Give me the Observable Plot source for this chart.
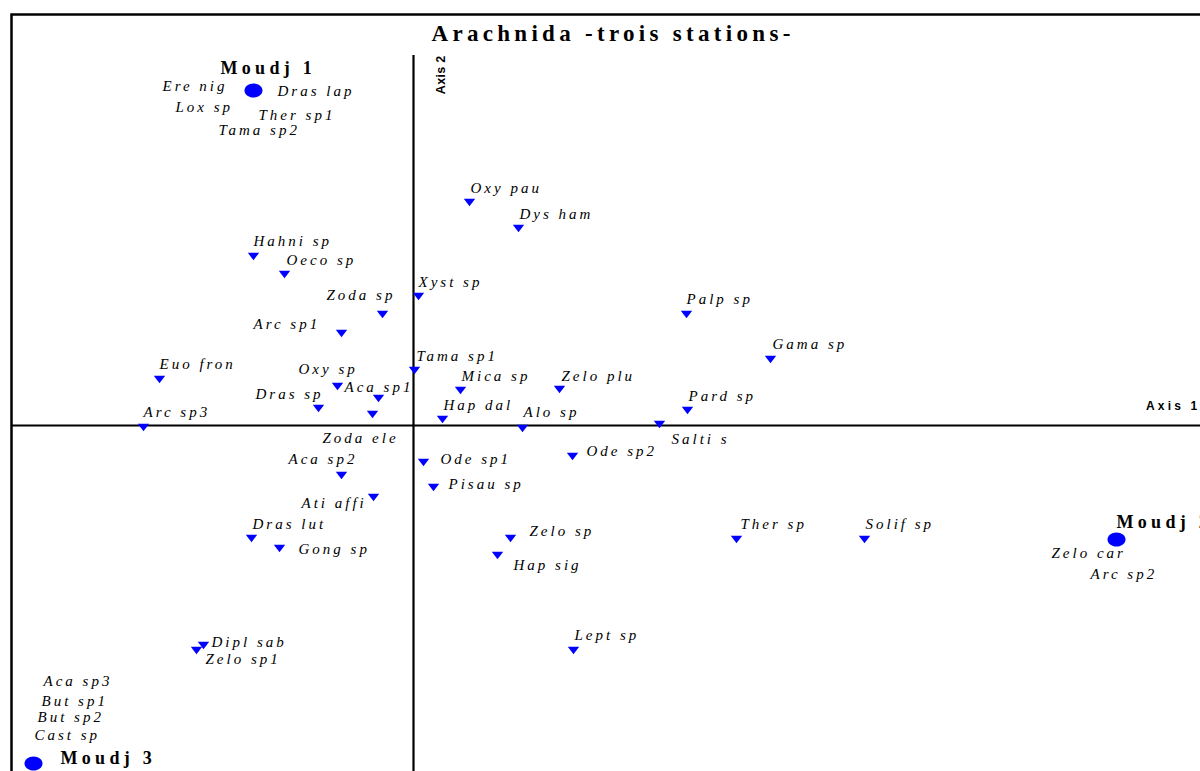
<!DOCTYPE html>
<html>
<head>
<meta charset="utf-8">
<script src="https://cdn.jsdelivr.net/npm/d3@7"></script>
<script src="https://cdn.jsdelivr.net/npm/@observablehq/plot@0.6"></script>
<style>
  html, body { margin: 0; padding: 0; overflow: hidden; background: #fff; }
  #chart svg { display: block; }
  #chart g.lbl-species { letter-spacing: 3px; }
  #chart g.lbl-station { letter-spacing: 4.3px; }
  #chart g.lbl-title { letter-spacing: 4.3px; }
  #chart g.lbl-axis1 { letter-spacing: 3.2px; }
  #chart g.lbl-axis2 { letter-spacing: 0.3px; }
</style>
</head>
<body>
<div id="chart"></div>
<script>
// ---- Data (correspondence analysis coordinates) ----
const title = "Arachnida -trois stations-";
const axisNames = ["Axis 1", "Axis 2"];

const stations = ["Moudj 1", "Moudj 2", "Moudj 3"];
const stationAxis1 = [-0.640, 2.812, -1.520];
const stationAxis2 = [1.340, -0.456, -1.352];
const stationLabelAxis1 = [-0.772, 2.812, -1.412];
const stationLabelAxis2 = [1.428, -0.388, -1.332];

const species = [
  "Ere nig", "Dras lap", "Lox sp", "Ther sp1", "Tama sp2",
  "Oxy pau", "Dys ham", "Hahni sp", "Oeco sp", "Xyst sp",
  "Zoda sp", "Palp sp", "Arc sp1", "Gama sp", "Tama sp1",
  "Euo fron", "Oxy sp", "Mica sp", "Zelo plu", "Aca sp1",
  "Dras sp", "Pard sp", "Hap dal", "Zoda ele", "Arc sp3",
  "Alo sp", "Salti s", "Ode sp2", "Ode sp1", "Aca sp2",
  "Pisau sp", "Ati affi", "Zelo sp", "Dras lut", "Gong sp",
  "Hap sig", "Ther sp", "Solif sp", "Zelo car", "Arc sp2",
  "Dipl sab", "Zelo sp1", "Lept sp", "Aca sp3", "But sp1",
  "But sp2", "Cast sp"
];
const speciesAxis1 = [
  -0.640, -0.640, -0.640, -0.640, -0.640,
  0.224, 0.420, -0.640, -0.516, 0.020,
  -0.124, 1.092, -0.288, 1.428, 0.004,
  -1.016, -0.304, 0.188, 0.584, -0.140,
  -0.380, 1.096, 0.116, -0.164, -1.080,
  0.436, 0.984, 0.636, 0.040, -0.288,
  0.080, -0.160, 0.388, -0.648, -0.536,
  0.336, 1.292, 1.804, 2.812, 2.812,
  -0.840, -0.868, 0.640, -1.520, -1.520,
  -1.520, -1.520
];
const speciesAxis2 = [
  1.340, 1.340, 1.340, 1.340, 1.340,
  0.892, 0.788, 0.676, 0.604, 0.516,
  0.444, 0.444, 0.368, 0.264, 0.220,
  0.184, 0.156, 0.140, 0.144, 0.108,
  0.068, 0.060, 0.024, 0.044, -0.008,
  -0.012, 0.004, -0.124, -0.148, -0.200,
  -0.248, -0.288, -0.452, -0.452, -0.492,
  -0.520, -0.456, -0.456, -0.456, -0.456,
  -0.880, -0.900, -0.900, -1.352, -1.352,
  -1.352, -1.352
];
// label anchor points (left end of each name), in the same units
const labelAxis1 = [
  -1.004, -0.544, -0.952, -0.620, -0.780,
  0.228, 0.424, -0.640, -0.508, 0.020,
  -0.348, 1.092, -0.640, 1.436, 0.012,
  -1.016, -0.460, 0.192, 0.592, -0.276,
  -0.632, 1.100, 0.120, -0.364, -1.080,
  0.440, 1.032, 0.692, 0.108, -0.500,
  0.140, -0.448, 0.464, -0.644, -0.460,
  0.400, 1.308, 1.808, 2.552, 2.708,
  -0.808, -0.832, 0.644, -1.480, -1.488,
  -1.504, -1.516
];
const labelAxis2 = [
  1.356, 1.336, 1.272, 1.240, 1.180,
  0.948, 0.844, 0.736, 0.660, 0.572,
  0.520, 0.504, 0.404, 0.324, 0.276,
  0.244, 0.224, 0.196, 0.196, 0.152,
  0.124, 0.116, 0.080, -0.052, 0.052,
  0.052, -0.056, -0.104, -0.136, -0.136,
  -0.236, -0.312, -0.424, -0.396, -0.496,
  -0.560, -0.396, -0.396, -0.512, -0.596,
  -0.868, -0.936, -0.840, -1.024, -1.104,
  -1.168, -1.240
];

// plotting window and axis-line extent
const xDomain = [-1.608, 3.168];
const yDomain = [-1.404, 1.644];
const axis2Top = 1.48;

// ---- Build tables ----
const speciesData = species.map((name, i) => ({
  name, x: speciesAxis1[i], y: speciesAxis2[i], lx: labelAxis1[i], ly: labelAxis2[i]
}));
const stationData = stations.map((name, i) => ({
  name, x: stationAxis1[i], y: stationAxis2[i], lx: stationLabelAxis1[i], ly: stationLabelAxis2[i]
}));

// custom symbols
const triangleDown = {
  draw(context, size) {
    const r = Math.sqrt(size / Math.PI);
    const w = r * 0.92, h = r * 0.6;
    context.moveTo(-w, -h);
    context.lineTo(w, -h);
    context.lineTo(0, h);
    context.closePath();
  }
};
const ellipse = {
  draw(context, size) {
    const r = Math.sqrt(size / Math.PI);
    const rx = r, ry = r * 0.78, k = 0.5523;
    context.moveTo(rx, 0);
    context.bezierCurveTo(rx, ry * k, rx * k, ry, 0, ry);
    context.bezierCurveTo(-rx * k, ry, -rx, ry * k, -rx, 0);
    context.bezierCurveTo(-rx, -ry * k, -rx * k, -ry, 0, -ry);
    context.bezierCurveTo(rx * k, -ry, rx, -ry * k, rx, 0);
    context.closePath();
  }
};

const blue = "#0000ff";
const serif = "'Liberation Serif', 'Times New Roman', serif";
const sans = "'Liberation Sans', Arial, sans-serif";

const chart = Plot.plot({
  width: 1200,
  height: 771,
  marginTop: 14,
  marginLeft: 11,
  marginRight: -5,
  marginBottom: -5,
  x: { domain: xDomain, axis: null },
  y: { domain: yDomain, axis: null },
  style: { background: "#fff", overflow: "hidden" },
  marks: [
    Plot.frame({ stroke: "black", strokeWidth: 2.5 }),
    Plot.ruleY([0], { stroke: "black", strokeWidth: 2.2 }),
    Plot.ruleX([0], { y1: axis2Top, y2: yDomain[0], stroke: "black", strokeWidth: 2.2 }),
    Plot.dot(speciesData, { x: "x", y: "y", r: 6.2, symbol: triangleDown, fill: blue, stroke: "none" }),
    Plot.dot(stationData, { x: "x", y: "y", r: 9, symbol: ellipse, fill: blue, stroke: "none" }),
    Plot.text(speciesData, {
      x: "lx", y: "ly", text: "name", textAnchor: "start",
      fontFamily: serif, fontStyle: "italic", fontSize: 15, fill: "black",
      className: "lbl-species"
    }),
    Plot.text(stationData, {
      x: "lx", y: "ly", text: "name", textAnchor: "start",
      fontFamily: serif, fontWeight: "bold", fontSize: 18, fill: "black",
      className: "lbl-station"
    }),
    Plot.text([title], {
      frameAnchor: "top-left", dx: 420, dy: 19, textAnchor: "start", lineAnchor: "middle",
      fontFamily: serif, fontWeight: "bold", fontSize: 23, fill: "black",
      className: "lbl-title"
    }),
    Plot.text([axisNames[0]], {
      x: xDomain[1], y: 0, dx: -5, dy: -19, textAnchor: "end",
      fontFamily: sans, fontWeight: "bold", fontSize: 12, fill: "black",
      className: "lbl-axis1"
    }),
    Plot.text([axisNames[1]], {
      x: 0, y: axis2Top, dx: 27, rotate: -90, textAnchor: "end",
      fontFamily: sans, fontWeight: "bold", fontSize: 12.5, fill: "black",
      className: "lbl-axis2"
    })
  ]
});
document.getElementById("chart").appendChild(chart);
</script>
</body>
</html>
